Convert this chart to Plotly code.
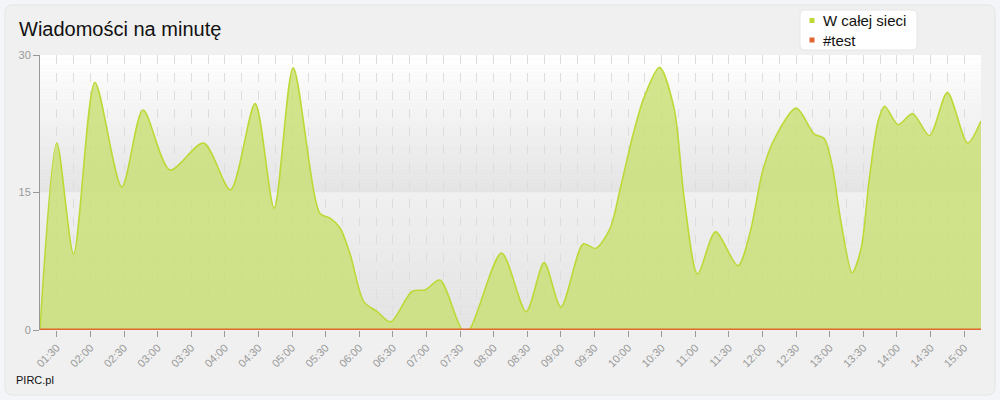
import plotly.graph_objects as go

DAY = "2024-01-01 "

times = ["01:15", "01:30", "01:45", "02:04", "02:28", "02:47", "03:11", "03:41", "04:05",
         "04:27", "04:44", "05:01", "05:25", "05:34", "05:43", "05:52", "06:04", "06:16",
         "06:28", "06:47", "06:59", "07:12", "07:32", "07:38", "08:07", "08:29", "08:45",
         "09:00", "09:20", "09:31", "09:44", "09:53", "10:05", "10:14", "10:28", "10:41",
         "10:50", "11:02", "11:18", "11:38", "11:49", "12:00", "12:10", "12:30", "12:46",
         "12:55", "13:02", "13:10", "13:20", "13:28", "13:35", "13:43", "13:49", "14:01",
         "14:14", "14:29", "14:45", "15:03", "15:15"]

network_values = [0, 20.4, 8.3, 27.0, 15.6, 24.0, 17.45, 20.4, 15.3,
                  24.7, 13.3, 28.6, 12.7, 12.2, 11.1, 8.2, 3.1, 2.0,
                  0.9, 4.2, 4.4, 5.45, 0, 0, 8.4, 2.0, 7.35,
                  2.5, 9.4, 8.9, 11.1, 15.45, 21.6, 25.3, 28.65, 24.2,
                  14.4, 6.1, 10.7, 7.0, 10.7, 17.3, 20.7, 24.2, 21.4,
                  20.9, 18.0, 11.8, 6.25, 8.9, 16.2, 22.7, 24.4, 22.4,
                  23.6, 21.2, 25.9, 20.4, 22.8]

test_values = [0] * len(times)

series_names = ["W całej sieci", "#test"]
series_colors = ["#bcd938", "#e0652e"]
y_ticks = [0, 15, 30]
x_range = ["01:15", "15:15"]

xs = [DAY + t for t in times]

# pixel -> paper helpers (plot area: x 40..981, y 55..330)
L, T, W, H = 40, 55, 941, 275


def px(x):
    return (x - L) / W


def py(y):
    return (T + H - y) / H


fig = go.Figure()

fig.add_trace(go.Scatter(
    x=xs, y=network_values, mode="lines", name=series_names[0],
    line=dict(color=series_colors[0], width=1.6, shape="spline", smoothing=0.8),
    fill="tozeroy", fillcolor="rgba(201,224,112,0.8)", showlegend=False,
    hoverinfo="skip"))
fig.add_trace(go.Scatter(
    x=xs, y=test_values, mode="lines", name=series_names[1],
    line=dict(color=series_colors[1], width=3), showlegend=False, hoverinfo="skip"))


def rounded(x0, y0, x1, y1, r):
    # pixel coords -> path in paper coords
    pts = [
        ("M", (x0 + r, y0)), ("L", (x1 - r, y0)), ("Q", (x1, y0), (x1, y0 + r)),
        ("L", (x1, y1 - r)), ("Q", (x1, y1), (x1 - r, y1)),
        ("L", (x0 + r, y1)), ("Q", (x0, y1), (x0, y1 - r)),
        ("L", (x0, y0 + r)), ("Q", (x0, y0), (x0 + r, y0)),
    ]
    s = []
    for p in pts:
        cmd = p[0]
        coords = " ".join(f"{px(a):.5f},{py(b):.5f}" for a, b in p[1:])
        s.append(f"{cmd} {coords}")
    return " ".join(s) + " Z"


shapes = []
# card
shapes.append(dict(type="path", xref="paper", yref="paper", layer="below",
                   path=rounded(5, 5, 995, 395, 8),
                   fillcolor="#f0f0f0", line=dict(color="#e3e4e8", width=1)))

# gradient bands (upper: white -> grey, lower: light grey -> grey)
N = 40
for i in range(N):
    f = i / (N - 1)
    y0 = 30 - 15 * i / N
    y1 = 30 - 15 * (i + 1) / N
    c = int(round(255 - (255 - 228) * f))
    shapes.append(dict(type="rect", xref="x domain", yref="y", x0=0, x1=1, y0=y1, y1=y0,
                       layer="below", line=dict(width=0), fillcolor=f"rgb({c},{c},{c})"))
for i in range(N):
    f = i / (N - 1)
    y0 = 15 - 15 * i / N
    y1 = 15 - 15 * (i + 1) / N
    c = int(round(240 - (240 - 227) * f))
    shapes.append(dict(type="rect", xref="x domain", yref="y", x0=0, x1=1, y0=y1, y1=y0,
                       layer="below", line=dict(width=0), fillcolor=f"rgb({c},{c},{c})"))

# manual legend
shapes.append(dict(type="path", xref="paper", yref="paper", layer="above",
                   path=rounded(800, 10, 917, 50, 5),
                   fillcolor="#ffffff", line=dict(color="#e6e6e6", width=1)))
legend_rows = [20.5, 40]
annotations = []
for name, col, yy in zip(series_names, series_colors, legend_rows):
    shapes.append(dict(type="rect", xref="paper", yref="paper", layer="above",
                       x0=px(809.5), x1=px(814.5), y0=py(yy + 2.5), y1=py(yy - 2.5),
                       fillcolor=col, line=dict(width=0)))
    annotations.append(dict(text=name, xref="paper", yref="paper", x=px(821),
                            y=py(yy), xanchor="left", yanchor="middle", showarrow=False,
                            font=dict(size=15, color="#111111")))

annotations += [
    dict(text="Wiadomości na minutę", xref="paper", yref="paper",
         x=px(17), y=py(29), xanchor="left", yanchor="middle", showarrow=False,
         font=dict(size=20, color="#111111")),
    dict(text="PIRC.pl", xref="paper", yref="paper",
         x=px(14), y=py(380), xanchor="left", yanchor="middle", showarrow=False,
         font=dict(size=11, color="#111111")),
]

fig.update_layout(
    width=1000, height=400,
    margin=dict(l=L, r=1000 - L - W, t=T, b=400 - T - H, autoexpand=False),
    paper_bgcolor="#f4f5f9",
    plot_bgcolor="rgba(0,0,0,0)",
    font=dict(family="Liberation Sans, Arial, sans-serif", color="#999999", size=11),
    shapes=shapes,
    showlegend=False,
    annotations=annotations,
)

fig.update_xaxes(
    type="date", range=[DAY + x_range[0], DAY + x_range[1]],
    dtick=30 * 60 * 1000, tick0=DAY + "01:30", tickformat="%H:%M", tickangle=-45,
    ticks="outside", ticklen=6, tickcolor="#999999", tickwidth=1,
    showgrid=True, gridcolor="#dddddd", griddash="dash", gridwidth=1,
    minor=dict(dtick=15 * 60 * 1000, tick0=DAY + "01:15", showgrid=True,
               gridcolor="#dddddd", griddash="dash", ticklen=0),
    showline=False, zeroline=False, fixedrange=True,
    tickfont=dict(size=11, color="#999999"),
)
fig.update_yaxes(
    range=[0, 30], tickvals=y_ticks, ticks="outside", ticklen=6, tickcolor="#999999",
    showline=True, linecolor="#999999", linewidth=1, showgrid=False, zeroline=False,
    tickfont=dict(size=11, color="#999999"), fixedrange=True,
)

fig.write_html("out.html",
               config={"displayModeBar": False},
               post_script="document.body.style.margin='0';"
                           "document.body.style.background='#f4f5f9';")
